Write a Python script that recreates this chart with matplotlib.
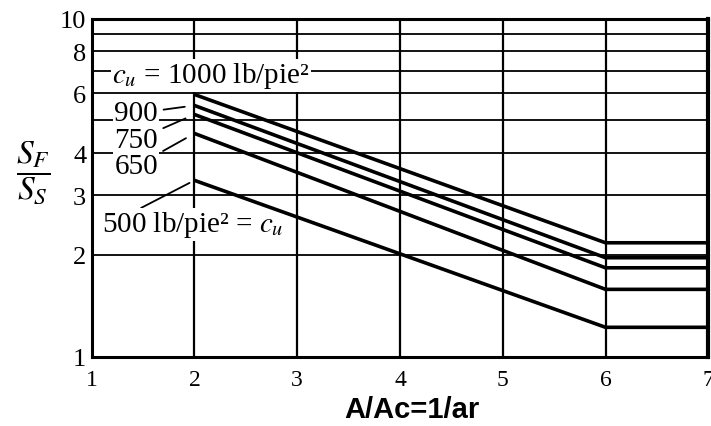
import matplotlib
matplotlib.use("Agg")
import matplotlib.pyplot as plt

# ---- data ----
cu_values = [1000, 900, 750, 650, 500]
x_points = [2, 6, 7]
sf_at_2 = [5.96, 5.53, 5.20, 4.57, 3.32]
sf_at_6 = [2.17, 1.96, 1.83, 1.58, 1.22]
ytick_vals = [1, 2, 3, 4, 6, 8, 10]
ytick_labels = ["1", "2", "3", "4", "6", "8", "10"]
xtick_vals = [1, 2, 3, 4, 5, 6, 7]
h_grid = [2, 3, 4, 5, 6, 7, 8, 9]
v_grid = [2, 3, 4, 5, 6]

plt.rcParams['mathtext.fontset'] = 'stix'
serif = 'Liberation Serif'

fig = plt.figure(figsize=(7.11, 4.27), dpi=100)
ax = fig.add_axes([91.7/711, 1-357.5/427, (708.3-91.7)/711, (357.5-19.5)/427])
ax.set_yscale('log')
ax.set_xlim(1, 7)
ax.set_ylim(1, 10)
ax.minorticks_off()
ax.set_yticks(ytick_vals)
ax.set_yticklabels(ytick_labels)
ax.set_xticks(xtick_vals)
ax.set_xticklabels([str(v) for v in xtick_vals])
ax.tick_params(axis='y', length=0, pad=4, labelsize=19)
ax.tick_params(axis='x', length=0, pad=9, labelsize=17)
for lab in ax.get_xticklabels() + ax.get_yticklabels():
    lab.set_fontfamily(serif)
for s in ax.spines.values():
    s.set_linewidth(2.2)
    s.set_color('black')
ax.spines['right'].set_linewidth(3)

for g in h_grid:
    ax.axhline(g, color='black', lw=1.3, zorder=1)
for g in v_grid:
    ax.axvline(g, color='black', lw=1.6, zorder=1)

for a, b in zip(sf_at_2, sf_at_6):
    ax.plot(x_points, [a, b, b], color='black', lw=2.6, zorder=4,
            solid_joinstyle='miter', solid_capstyle='butt')

box = dict(facecolor='white', edgecolor='none', pad=1.0)
fs = 21
# top label
ax.text(1.2, 6.79, r'$c_u$ = 1000 lb/pie²', fontsize=fs, family=serif,
        ha='left', va='center', bbox=box, zorder=2)

label_pos = {900: (1.645, 5.24), 750: (1.645, 4.37), 650: (1.645, 3.66)}
for cu, v in zip(cu_values, sf_at_2):
    if cu in label_pos:
        tx, ty = label_pos[cu]
        ax.annotate(str(cu), xy=(2, v), xytext=(tx, ty), fontsize=fs,
                    family=serif, ha='right', va='center', bbox=box, zorder=2,
                    arrowprops=dict(arrowstyle='-', color='black', lw=1.3,
                                    shrinkA=3, shrinkB=7))
ax.annotate(r'500 lb/pie² = $c_u$', xy=(2, sf_at_2[4]), xytext=(1.1, 2.46),
            fontsize=fs, family=serif, ha='left', va='center', bbox=box,
            zorder=2, arrowprops=dict(arrowstyle='-', color='black', lw=1.3,
                                      shrinkA=0, shrinkB=4,
                                      relpos=(0.2, 1.0)))

fig.text(33/711, 1-173/427, r'$\dfrac{S_F}{S_S}$', fontsize=24,
         ha='center', va='center')
fig.text(412/711, 1-410/427, 'A/Ac=1/ar', fontsize=21, fontweight='bold',
         family='Liberation Sans', ha='center', va='center')

fig.savefig('out.png', dpi=100)
